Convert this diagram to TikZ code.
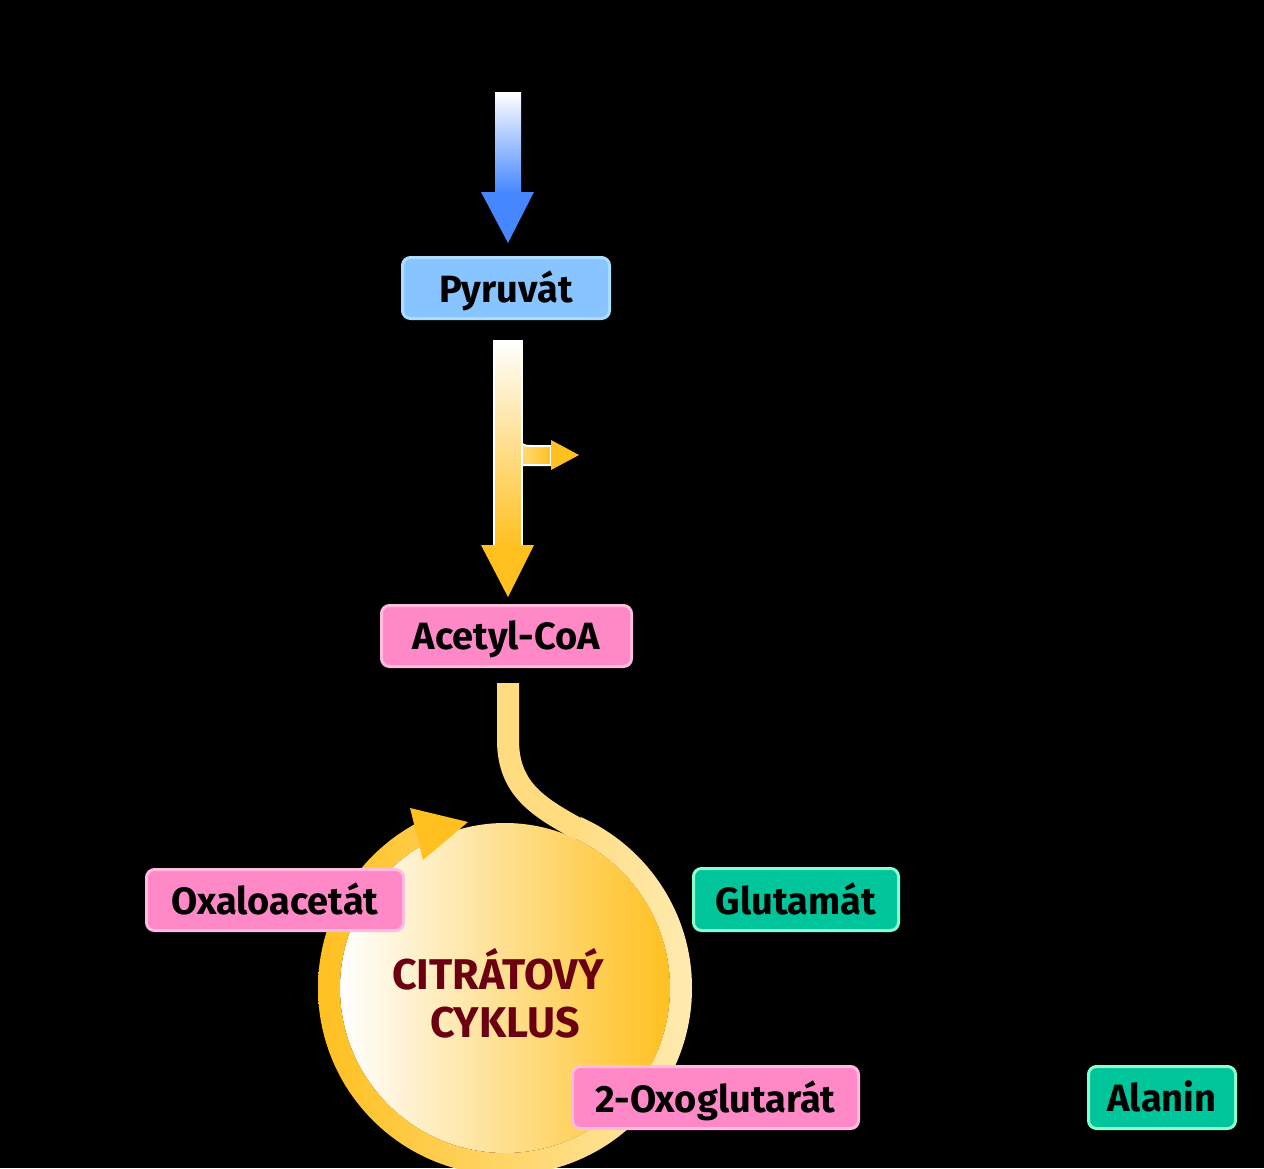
\documentclass[tikz,border=0pt]{standalone}
\usepackage{fontspec}
\setmainfont{Fira Sans}
\definecolor{pinkfill}{HTML}{FF88C6}
\definecolor{pinkline}{HTML}{FFBBE0}
\definecolor{bluefill}{HTML}{88C4FF}
\definecolor{blueline}{HTML}{AADDFF}
\definecolor{tealfill}{HTML}{00C49A}
\definecolor{tealline}{HTML}{88FFCC}
\definecolor{orng}{HTML}{FFC020}
\definecolor{lightyel}{HTML}{FFEAB0}
\definecolor{curveyel}{HTML}{FFDC80}
\definecolor{arrblue}{HTML}{4686FF}
\definecolor{darkred}{HTML}{6B0012}
\tikzset{
  box/.style={rounded corners=8pt, line width=3pt, inner sep=0pt, text=black,
    font=\fontsize{38}{40}\selectfont\bfseries, text depth=2pt},
  pinkbox/.style={box, fill=pinkfill, draw=pinkline},
  bluebox/.style={box, fill=bluefill, draw=blueline},
  tealbox/.style={box, fill=tealfill, draw=tealline},
  blacktext/.style={text=black, font=\fontsize{38}{40}\selectfont\itshape},
}
\begin{document}
\begin{tikzpicture}[x=1pt,y=-1pt]
\useasboundingbox (0,0) rectangle (1264,1168);
\fill[black] (0,0) rectangle (1264,1168);

% labels in black
\node[blacktext] (glyk) at (505,52) {Glykolýza};
\node[blacktext] (co2l) at (70,420) {CO\textsubscript{2}};
\node[blacktext] (co2r) at (630,457) {CO\textsubscript{2}};

% blue arrow
\shade[top color=white, bottom color=arrblue] (495,92) rectangle (521,193);
\fill[arrblue] (481,192) -- (534,192) -- (508,243) -- cycle;

% orange arrow with branch
\shade[left color=curveyel, right color=orng, draw=white, line width=2pt]
  (518,440) .. controls (524,446) .. (534,446) -- (551,446) -- (551,465) -- (518,465) -- cycle;
\fill[orng] (551,440) -- (579,455) -- (551,470) -- cycle;
\shade[top color=white, bottom color=orng, draw=white, line width=2pt] (494,341) rectangle (522,546);
\fill[orng] (481,545) -- (534,545) -- (508,597) -- cycle;

% citrate cycle disk
\coordinate (cc) at (505,988);
\shade[left color=white, right color=orng] (cc) circle (165pt);
\begin{scope}
  \clip (cc) -- ([shift={(66:400pt)}]cc) -- ([shift={(0:400pt)}]cc) -- ([shift={(-90:400pt)}]cc) -- ([shift={(180:400pt)}]cc) -- ([shift={(118:400pt)}]cc) -- cycle;
  \shade[even odd rule, left color=orng, right color=lightyel] (cc) circle (187pt) (cc) circle (165pt);
\end{scope}
\draw[curveyel, line width=22pt] (508,683) -- (508,740) .. controls (508,790) and (540,808) .. (580,830);
\fill[orng] (410,808) -- (468,822) -- (423,860) -- cycle;

\node[darkred, font=\fontsize{43}{46}\selectfont\bfseries, align=center] (cit) at (498,993)
  {CITRÁTOVÝ\\[2pt]\hspace*{14pt}CYKLUS};

% boxes
\node[bluebox, minimum width=207pt, minimum height=61pt] (pyr) at (506,288) {Pyruvát};
\node[pinkbox, minimum width=250pt, minimum height=61pt] (acc) at (506.5,636) {Acetyl-CoA};
\node[pinkbox, minimum width=257pt, minimum height=61pt] (oxa) at (275,900) {Oxaloacetát};
\node[tealbox, minimum width=205pt, minimum height=62pt] (glu) at (796,899.5) {Glutamát};
\node[pinkbox, minimum width=286pt, minimum height=62pt] (oxg) at (715.5,1097.5) {2-Oxoglutarát};
\node[tealbox, minimum width=147pt, minimum height=62pt] (ala) at (1162,1097.5) {Alanin};
\end{tikzpicture}
\end{document}
